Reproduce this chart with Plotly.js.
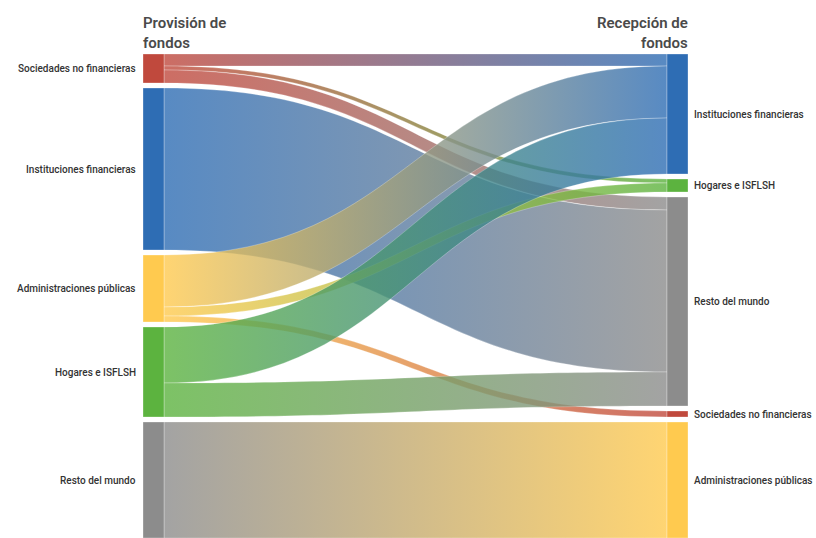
<!DOCTYPE html>
<html><head><meta charset="utf-8">
<script src="https://cdn.plot.ly/plotly-3.0.1.min.js"></script>
<style>html,body{margin:0;padding:0;background:#fff}#chart{width:816px;height:538px}</style>
</head><body><div id="chart"></div>
<script>
// ---- data ----
const leftOrder = ["Sociedades no financieras", "Instituciones financieras", "Administraciones públicas", "Hogares e ISFLSH", "Resto del mundo"];
const rightOrder = ["Instituciones financieras", "Hogares e ISFLSH", "Resto del mundo", "Sociedades no financieras", "Administraciones públicas"];
const linkSource = ["Sociedades no financieras", "Sociedades no financieras", "Sociedades no financieras",
                    "Instituciones financieras",
                    "Administraciones públicas", "Administraciones públicas", "Administraciones públicas",
                    "Hogares e ISFLSH", "Hogares e ISFLSH",
                    "Resto del mundo"];
const linkTarget = ["Instituciones financieras", "Hogares e ISFLSH", "Resto del mundo",
                    "Resto del mundo",
                    "Instituciones financieras", "Hogares e ISFLSH", "Sociedades no financieras",
                    "Instituciones financieras", "Resto del mundo",
                    "Administraciones públicas"];
const linkValue = [12, 4, 13, 162, 52, 9, 6, 56, 34, 116];
const titleLeft = "Provisión de<br>fondos";
const titleRight = "Recepción de<br>fondos";

// ---- style ----
const sectorColors = {
  "Sociedades no financieras": "#c0493d",
  "Instituciones financieras": "#2e6db4",
  "Administraciones públicas": "#ffca4f",
  "Hogares e ISFLSH": "#5cb33f",
  "Resto del mundo": "#8c8c8c"
};
const W = 816, H = 538;
const domX = [143, 688], domTop = 54;
const pad = 5, thick = 21;
const innerW = domX[1] - domX[0], innerH = H - domTop;

function hexA(h, a) {
  const n = parseInt(h.slice(1), 16);
  return `rgba(${n >> 16 & 255},${n >> 8 & 255},${n & 255},${a})`;
}

// nodes: left column then right column
const nodeNames = leftOrder.concat(rightOrder);
const nLeft = leftOrder.length;
const src = linkSource.map(s => leftOrder.indexOf(s));
const tgt = linkTarget.map(t => nLeft + rightOrder.indexOf(t));

// node totals
const nodeVal = nodeNames.map(() => 0);
linkValue.forEach((v, i) => { nodeVal[src[i]] += v; nodeVal[tgt[i]] += v; });
const sumL = nodeVal.slice(0, nLeft).reduce((a, b) => a + b, 0);
const sumR = nodeVal.slice(nLeft).reduce((a, b) => a + b, 0);
const ky = Math.min((innerH - (nLeft - 1) * pad) / sumL, (innerH - (rightOrder.length - 1) * pad) / sumR);

// stacked centres (keep the reference's order)
const nodeX = [], nodeY = [], centerPx = [];
[[0, nLeft], [nLeft, nodeNames.length]].forEach(([a, b], col) => {
  let cum = 0;
  for (let i = a; i < b; i++) {
    const h = nodeVal[i] * ky;
    const c = cum + h / 2;
    centerPx[i] = c;
    nodeY[i] = c / innerH;
    nodeX[i] = col === 0 ? (thick / 2) / innerW : 1 - (thick / 2) / innerW;
    cum += h + pad;
  }
});

const trace = {
  type: "sankey",
  arrangement: "fixed",
  domain: { x: [domX[0] / W, domX[1] / W], y: [0, innerH / H] },
  node: {
    label: nodeNames.map(() => ""),
    customdata: nodeNames,
    hovertemplate: "%{customdata}<extra></extra>",
    x: nodeX, y: nodeY,
    pad: pad, thickness: thick,
    color: nodeNames.map(n => sectorColors[n]),
    line: { color: "rgba(255,255,255,0.6)", width: 0.5 }
  },
  link: {
    source: src, target: tgt, value: linkValue,
    color: src.map(s => hexA(sectorColors[nodeNames[s]], 0.8)),
    line: { color: "rgba(255,255,255,0.5)", width: 0.5 },
    hoverinfo: "none"
  }
};

const annotations = [];
nodeNames.forEach((n, i) => {
  const left = i < nLeft;
  annotations.push({
    text: n, showarrow: false, xref: "paper", yref: "paper",
    x: left ? (domX[0] - 5) / W : (domX[1] + 4) / W,
    xanchor: left ? "right" : "left",
    y: 1 - (domTop + centerPx[i]) / H, yanchor: "middle",
    font: { family: "Roboto, sans-serif", size: 10, color: "#333333", weight: 500 }
  });
});
annotations.push({
  text: titleLeft, showarrow: false, xref: "paper", yref: "paper",
  x: (domX[0] - 2) / W, xanchor: "left", y: 1 - 12 / H, yanchor: "top", align: "left",
  font: { family: "Roboto, sans-serif", size: 15, color: "#4a4a4a", weight: 600 }
});
annotations.push({
  text: titleRight, showarrow: false, xref: "paper", yref: "paper",
  x: (domX[1] + 2) / W, xanchor: "right", y: 1 - 12 / H, yanchor: "top", align: "right",
  font: { family: "Roboto, sans-serif", size: 15, color: "#4a4a4a", weight: 600 }
});

const layout = {
  width: W, height: H,
  margin: { l: 0, r: 0, t: 0, b: 0 },
  paper_bgcolor: "#ffffff",
  font: { family: "Roboto, sans-serif" },
  annotations: annotations
};

function applyGradients(gd) {
  const ns = "http://www.w3.org/2000/svg";
  const svg = gd.querySelector("svg.main-svg");
  const defs = document.createElementNS(ns, "defs");
  svg.insertBefore(defs, svg.firstChild);
  gd.querySelectorAll("path.sankey-link").forEach((p, k) => {
    const d = p.__data__ || {};
    const L = d.link || {};
    let pn = (L.pointNumber != null) ? L.pointNumber : (d.pointNumber != null ? d.pointNumber : k);
    if (Array.isArray(pn)) pn = pn[0];
    const sc = sectorColors[linkSource[pn]], tc = sectorColors[linkTarget[pn]];
    if (!sc || !tc) return;
    const id = "lg" + k;
    const g = document.createElementNS(ns, "linearGradient");
    g.setAttribute("id", id);
    g.setAttribute("x1", "0"); g.setAttribute("y1", "0");
    g.setAttribute("x2", "1"); g.setAttribute("y2", "0");
    [[0, sc], [1, tc]].forEach(([o, c]) => {
      const s = document.createElementNS(ns, "stop");
      s.setAttribute("offset", o);
      s.setAttribute("stop-color", c);
      g.appendChild(s);
    });
    defs.appendChild(g);
    p.style.fill = `url(#${id})`;
  });
}

Plotly.newPlot("chart", [trace], layout, { displayModeBar: false, staticPlot: false })
  .then(gd => applyGradients(gd));
</script>
</body></html>
